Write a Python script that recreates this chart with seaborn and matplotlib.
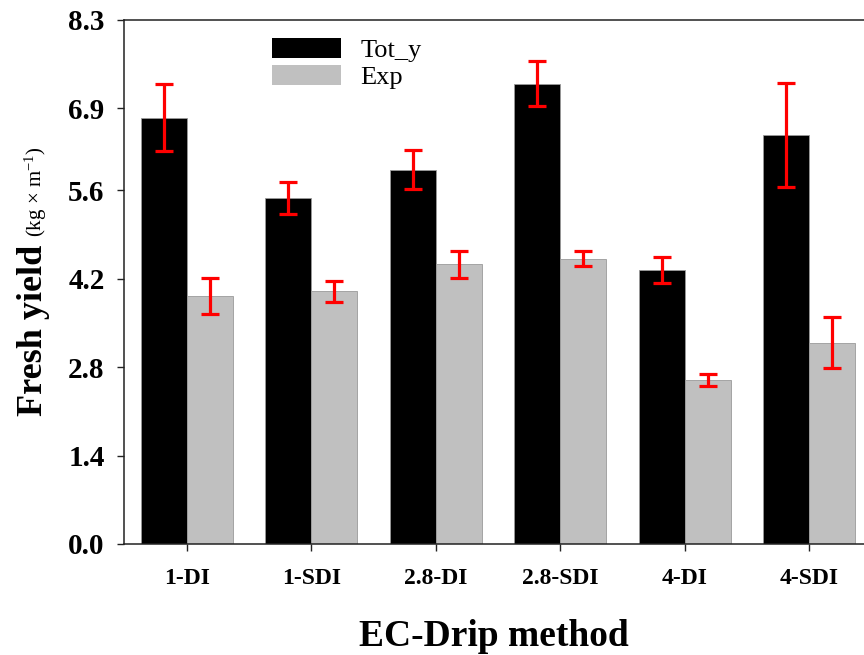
import matplotlib
matplotlib.use("Agg")
import matplotlib.pyplot as plt
import seaborn as sns
import pandas as pd
import numpy as np

categories = ["1-DI", "1-SDI", "2.8-DI", "2.8-SDI", "4-DI", "4-SDI"]
tot_y = [6.75, 5.48, 5.93, 7.29, 4.34, 6.48]
tot_y_err = [0.53, 0.26, 0.31, 0.36, 0.21, 0.82]
exp_vals = [3.93, 4.00, 4.43, 4.52, 2.60, 3.19]
exp_err = [0.28, 0.17, 0.21, 0.12, 0.095, 0.41]
series = ["Tot_y", "Exp"]
yticks = [0.0, 1.4, 2.8, 4.2, 5.6, 6.9, 8.3]

sns.set_style("ticks")
plt.rcParams["font.family"] = ["Liberation Serif", "DejaVu Serif"]
plt.rcParams["mathtext.fontset"] = "custom"
plt.rcParams["mathtext.rm"] = "Liberation Serif"
plt.rcParams["mathtext.it"] = "Liberation Serif:italic"
plt.rcParams["mathtext.bf"] = "Liberation Serif:bold"
for k in ["text.color", "axes.labelcolor", "xtick.color", "ytick.color",
          "xtick.labelcolor", "ytick.labelcolor", "axes.edgecolor"]:
    plt.rcParams[k] = "black"

df = pd.DataFrame({
    "method": categories * 2,
    "series": [series[0]] * len(categories) + [series[1]] * len(categories),
    "value": tot_y + exp_vals,
})
errs = {series[0]: tot_y_err, series[1]: exp_err}

W, H = 864, 655
fig = plt.figure(figsize=(W / 100, H / 100), dpi=100)
ax = fig.add_axes([124 / W, 1 - 544 / H, 1 - 124 / W, (544 - 20) / H])

sns.barplot(data=df, x="method", y="value", hue="series", order=categories,
            hue_order=series, palette=["#000000", "#C0C0C0"], width=0.74,
            errorbar=None, edgecolor="#9a9a9a", linewidth=0.6, saturation=1,
            ax=ax)

for cont, s in zip(ax.containers, series):
    xs = [p.get_x() + p.get_width() / 2 for p in cont]
    ys = [p.get_height() for p in cont]
    ax.errorbar(xs, ys, yerr=errs[s], fmt="none", ecolor="#FF0000",
                elinewidth=2.3, capsize=6.3, capthick=2.3, zorder=5)

ax.set_ylim(0, 8.3)
ax.set_xlim(-0.504, 5.44)
ax.set_yticks(yticks)
ax.set_yticklabels([f"{v:.1f}" for v in yticks])
for lab in ax.get_xticklabels():
    lab.set_fontweight("bold")
    lab.set_fontsize(17)
for lab in ax.get_yticklabels():
    lab.set_fontweight("bold")
    lab.set_fontsize(21)
ax.tick_params(axis="both", direction="out", length=5, width=1, color="#222222",
               labelcolor="black")
ax.tick_params(axis="y", pad=9)
ax.tick_params(axis="x", pad=12)

for side in ["left", "bottom", "top"]:
    ax.spines[side].set_visible(True)
    ax.spines[side].set_linewidth(1.1)
    ax.spines[side].set_color("#222222")
ax.spines["right"].set_visible(False)

ax.set_xlabel("EC-Drip method", fontsize=27, fontweight="bold", labelpad=22,
              color="black")
ax.set_ylabel("")

fig.text(42 / W, 1 - 330 / H, "Fresh yield", rotation=90, fontsize=26,
         fontweight="bold", ha="center", va="baseline", rotation_mode="anchor",
         color="black")
fig.text(42 / W, 1 - 192 / H, r"(kg $\mathregular{\times}$ m$^{\mathregular{-1}}$)",
         rotation=90, fontsize=15, ha="center", va="baseline",
         rotation_mode="anchor", color="black")

leg = ax.legend(loc="upper left", bbox_to_anchor=(272 / W, 1 - 38 / H),
                bbox_transform=fig.transFigure, frameon=False, fontsize=19,
                handlelength=2.6, handleheight=0.78, labelspacing=0.12,
                handletextpad=0.75, borderpad=0, borderaxespad=0)
for h in leg.legend_handles:
    h.set_edgecolor("none")
for t in leg.get_texts():
    t.set_color("black")

fig.savefig("out.png", dpi=100)
